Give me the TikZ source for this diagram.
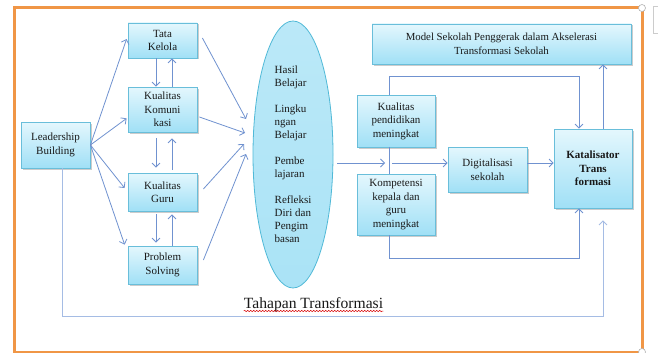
\documentclass[tikz,border=0pt]{standalone}
\usepackage{fontspec}
\setmainfont{Liberation Serif}
\usetikzlibrary{arrows.meta,shadows,calc,decorations.pathmorphing,shapes.geometric}
\definecolor{arr}{RGB}{112,146,208}
\definecolor{arrlight}{RGB}{165,188,228}
\definecolor{bxline}{RGB}{105,190,218}
\definecolor{bxtop}{RGB}{228,247,253}
\definecolor{bxbot}{RGB}{160,224,246}
\definecolor{ellfill}{RGB}{170,227,246}
\definecolor{ellline}{RGB}{80,185,215}
\definecolor{framec}{RGB}{240,150,70}
\definecolor{txt}{RGB}{25,25,25}
\begin{document}
\begin{tikzpicture}[x=1pt,y=-1pt,
 box/.style={draw=bxline, line width=0.8pt, top color=bxtop, bottom color=bxbot, inner sep=0pt,
   align=center, font=\fontsize{11}{13.5}\selectfont, text=txt,
   drop shadow={shadow xshift=1.5pt, shadow yshift=-1.5pt, opacity=0.4}},
 con/.style={draw=arr, line width=0.8pt},
 arw/.style={con, -{Straight Barb[length=4pt,width=8pt]}},
]
\useasboundingbox (0,0) rectangle (658,353);
\fill[white] (0,0) rectangle (658,353);
\draw[framec, line width=3pt] (14,8) rectangle (642,352);
\draw[gray!60, fill=white, line width=0.6pt] (642,8) circle (3.5pt);
\draw[gray!60, fill=white, line width=0.6pt] (642,352) circle (3.5pt);
\draw[gray!40, fill=white, line width=0.6pt] (653,6) rectangle (664,33);

% left column
\node[box, minimum width=69pt, minimum height=46pt] (LB) at (55.5,145) {Leadership\\Building};
\node[box, minimum width=69pt, minimum height=35pt] (TK) at (162.5,40.5) {Tata\\Kelola};
\node[box, minimum width=69pt, minimum height=45pt] (KK) at (162.5,109.5) {Kualitas\\Komuni\\kasi};
\node[box, minimum width=69pt, minimum height=38pt] (KG) at (162.5,192) {Kualitas\\Guru};
\node[box, minimum width=69pt, minimum height=38pt] (PS) at (162.5,265) {Problem\\Solving};

% ellipse
\node[ellipse, draw=ellline, line width=0.8pt, top color=ellfill!80, bottom color=ellfill,
  minimum width=80pt, minimum height=267pt, inner sep=0pt, align=left,
  font=\fontsize{11}{13}\selectfont, text=txt] (E) at (293,154.5)
  {Hasil\\Belajar\\[13pt]Lingku\\ngan\\Belajar\\[13pt]Pembe\\lajaran\\[13pt]Refleksi\\Diri dan\\Pengim\\basan};

% right side
\node[box, minimum width=259pt, minimum height=40pt, font=\fontsize{10.8}{14}\selectfont] (M) at (501.5,44) {Model Sekolah Penggerak dalam Akselerasi\\Transformasi Sekolah};
\node[box, minimum width=78pt, minimum height=52pt] (KP) at (396,121) {Kualitas\\pendidikan\\meningkat};
\node[box, minimum width=78pt, minimum height=61pt] (KO) at (396,204.5) {Kompetensi\\kepala dan\\guru\\meningkat};
\node[box, minimum width=79pt, minimum height=45pt] (DG) at (487.5,169.5) {Digitalisasi\\sekolah};
\node[box, minimum width=78pt, minimum height=79pt, font=\bfseries\fontsize{11}{13.5}\selectfont] (KT) at (593,168.5) {Katalisator\\Trans\\formasi};

% text
\node[font=\fontsize{15.6}{18}\selectfont, text=txt, anchor=base, inner sep=0pt] (TT) at (313.5,308) {Tahapan Transformasi};
\draw[red!85!black, line width=0.5pt, decorate, decoration={snake, amplitude=0.7pt, segment length=3pt}]
  ($(TT.base west)+(0,3)$) -- ($(TT.base east)+(0,3)$);

% coordinates
\coordinate (e1) at (246,119);
\coordinate (e2) at (245,133);
\coordinate (e3) at (244,144);
\coordinate (e4) at (246,154);
\coordinate (jn) at (389,163);

% left arrows
\draw[arw] (LB.east) -- ($(TK.west)+(-1,-1.5)$);
\draw[arw] (LB.east) -- ($(KK.south west)+(-1,-14)$);
\draw[arw] (LB.east) -- ($(KG.west)+(-3,-4)$);
\draw[arw] (LB.east) -- ($(PS.north west)+(-3,-1)$);

% vertical pairs
\draw[arw] ($(TK.south)+(-6.5,0)$) -- ($(KK.north)+(-6.5,0)$);
\draw[arw] ($(KK.north)+(9.5,0)$) -- ($(TK.south)+(9.5,0)$);
\draw[arw] ($(KK.south)+(-6.5,6)$) -- ($(KG.north)+(-6.5,-5)$);
\draw[arw] ($(KG.north)+(9.5,-3)$) -- ($(KK.south)+(9.5,6)$);
\draw[arw] ($(KG.south)+(-6.5,3)$) -- ($(PS.north)+(-6.5,-3)$);
\draw[arw] ($(PS.north)+(9.5,0)$) -- ($(KG.south)+(9.5,3)$);

% to ellipse
\draw[arw] ($(TK.east)+(5,-2.5)$) -- (e1);
\draw[arw] ($(KK.east)+(2,7.5)$) -- (e2);
\draw[arw] ($(KG.east)+(6,-3)$) -- (e3);
\draw[arw] ($(PS.east)+(6,-5)$) -- (e4);

% right connectors
\draw[arw] ($(E.east)+(4,8.5)$) -- ($(jn)+(-4,0)$);
\draw[con] ($(KP.south)+(-7,0)$) -- ($(KO.north)+(-7,0)$);
\draw[arw] ($(jn)+(3,0)$) -- (DG.west |- jn);
\draw[arw] (DG.east |- jn) -- (KT.west |- jn);
\draw[arw] ($(KP.north)+(-7,0)$) -- ++(0,-18) -| ($(KT.north)+(-14,0)$);
\draw[arw] ($(KO.south)+(-7,0)$) -- ++(0,23) -| ($(KT.south)+(-14,0)$);
\coordinate (k1) at ($(KT.north)+(10,0)$);
\draw[arw] (k1) -- (k1 |- M.south);
\draw[arw, draw=arrlight] ($(LB.south)+(6.5,0)$) -- ++(0,148) -| ($(KT.south)+(10,12)$);
\end{tikzpicture}
\end{document}
